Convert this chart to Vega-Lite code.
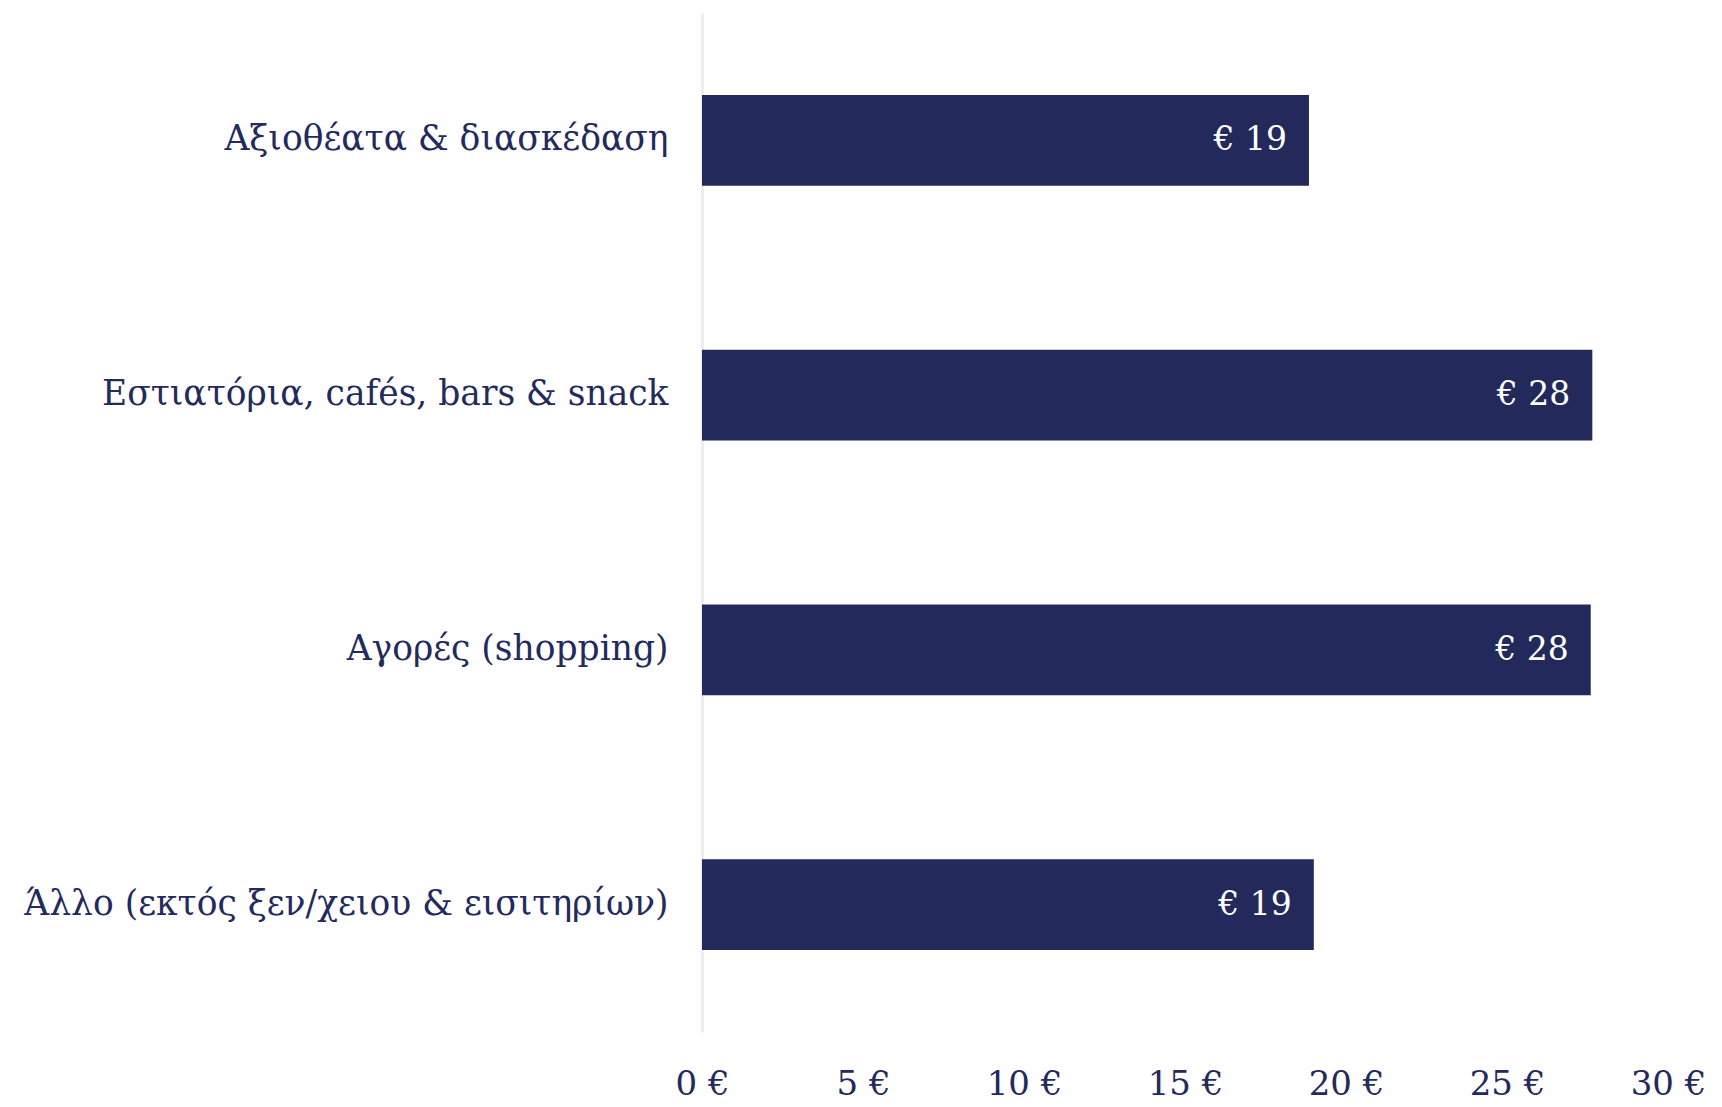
{
  "$schema": "https://vega.github.io/schema/vega-lite/v6.json",
  "autosize": "none",
  "width": 966,
  "height": 1019,
  "padding": {"left": 702, "top": 13, "right": 54, "bottom": 75},
  "background": "white",
  "config": {"view": {"stroke": null}, "font": "DejaVu Serif"},
  "data": {"values": [
    {"category": "Αξιοθέατα & διασκέδαση", "value": 18.85, "label": "€ 19"},
    {"category": "Εστιατόρια, cafés, bars & snack", "value": 27.65, "label": "€ 28"},
    {"category": "Αγορές (shopping)", "value": 27.6, "label": "€ 28"},
    {"category": "Άλλο (εκτός ξεν/χειου & εισιτηρίων)", "value": 19.0, "label": "€ 19"}
  ]},
  "encoding": {
    "y": {"field": "category", "type": "nominal", "sort": null,
      "scale": {"paddingInner": 0.643, "paddingOuter": 0.3215},
      "axis": {"title": null, "ticks": false, "domainColor": "#eeeeee", "domainWidth": 3,
        "labelFont": "DejaVu Serif", "labelFontSize": 34.5, "labelColor": "#232a5c",
        "labelPadding": 34, "labelLimit": 800}},
    "x": {"field": "value", "type": "quantitative",
      "scale": {"domain": [0, 30], "nice": false},
      "axis": {"title": null, "ticks": false, "domain": false, "grid": false,
        "values": [0, 5, 10, 15, 20, 25, 30], "labelExpr": "datum.value + ' €'",
        "labelFont": "DejaVu Serif", "labelFontSize": 34, "labelColor": "#232a5c",
        "labelPadding": 35, "labelFlush": false}}
  },
  "layer": [
    {"mark": {"type": "bar", "color": "#23295a", "cornerRadius": 0}},
    {"mark": {"type": "text", "align": "right", "baseline": "middle", "dx": -22, "color": "white",
      "font": "DejaVu Serif", "fontSize": 33},
     "encoding": {"text": {"field": "label"}}}
  ]
}
